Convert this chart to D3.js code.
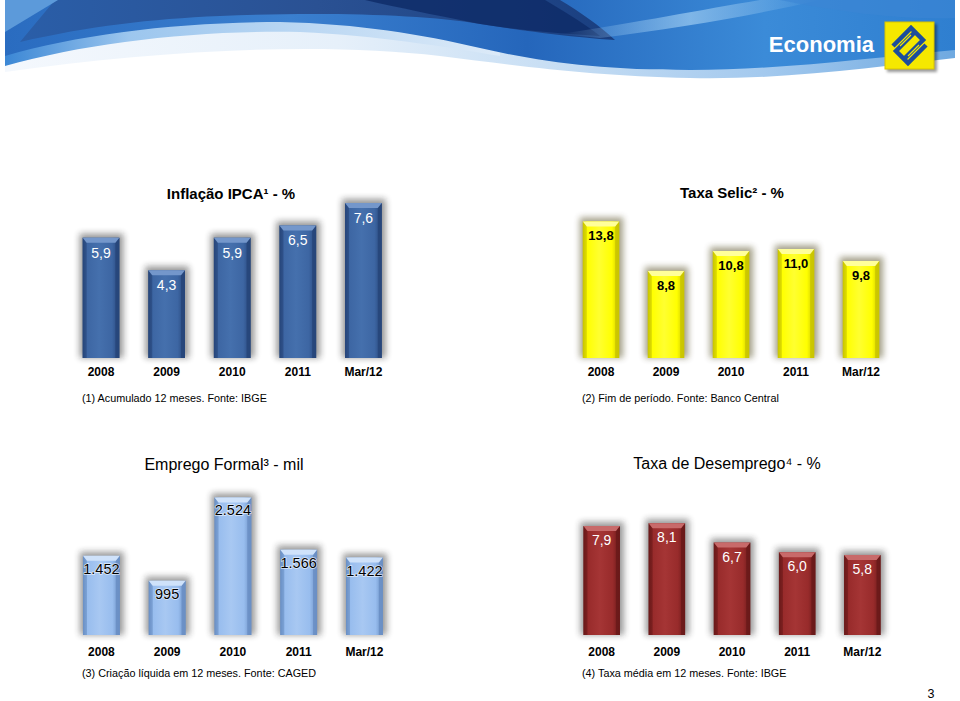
<!DOCTYPE html>
<html><head><meta charset="utf-8">
<script src="https://cdn.jsdelivr.net/npm/d3@7"></script>
<style>
body{margin:0;background:#fff;}
svg{display:block;font-family:"Liberation Sans",Arial,sans-serif;}
</style></head>
<body>
<svg id="c" width="960" height="701"></svg>
<script>
const categories = ["2008","2009","2010","2011","Mar/12"];
const ipca = [5.9, 4.3, 5.9, 6.5, 7.6];
const selic = [13.8, 8.8, 10.8, 11.0, 9.8];
const emprego = [1452, 995, 2524, 1566, 1422];
const desemprego = [7.9, 8.1, 6.7, 6.0, 5.8];
const titles = ["Inflação IPCA¹ - %", "Taxa Selic² - %", "Emprego Formal³ - mil", "Taxa de Desemprego⁴ - %"];
const notes = ["(1) Acumulado 12 meses. Fonte: IBGE", "(2) Fim de período. Fonte: Banco Central",
               "(3) Criação líquida em 12 meses. Fonte: CAGED", "(4) Taxa média em 12 meses. Fonte: IBGE"];

const svg = d3.select("#c");
const defs = svg.append("defs");

// ---------- header banner ----------
function lg(id, stops, x1=0,y1=0,x2=1,y2=0){
  const g = defs.append("linearGradient").attr("id",id).attr("x1",x1).attr("y1",y1).attr("x2",x2).attr("y2",y2);
  stops.forEach(s=>g.append("stop").attr("offset",s[0]).attr("stop-color",s[1]).attr("stop-opacity",s[2]===undefined?1:s[2]));
}
lg("paleG", [[0,"#f4f8fd"],[0.35,"#e6f0fa"],[0.6,"#c4dcf3"],[0.8,"#a3c9ee"],[1,"#6fa9e0"]]);
lg("mainG", [[0,"#2a6cc0"],[0.3,"#3a7fcf"],[0.55,"#2566bb"],[0.8,"#3b8bd8"],[1,"#2f7fd0"]]);
lg("darkG", [[0,"#2a5ea8"],[0.5,"#2a5193"],[1,"#1a3f80"]]);
lg("lightStreak", [[0,"#9fcdf2",0],[0.5,"#9fcdf2",0.7],[1,"#9fcdf2",0]]);
lg("midBand", [[0,"#3b87d5"],[0.25,"#9cc6ee"],[1,"#dceaf8"]]);

const hb = svg.append("g");
hb.append("path").attr("fill","url(#paleG)")
  .attr("d","M5,0 H955 V58 C880,66 790,80 690,78 C590,76 520,66 440,56 C320,42 160,50 5,72 Z");
hb.append("path").attr("fill","url(#midBand)")
  .attr("d","M5,0 H500 V56 C440,46 380,36 300,32 C200,30 90,42 5,66 Z");
hb.append("path").attr("fill","url(#mainG)")
  .attr("d","M5,0 H955 V50 C870,58 780,70 690,70 C600,70 540,62 480,48 C420,34 360,24 280,22 C180,22 80,34 5,56 Z");
hb.append("path").attr("fill","url(#darkG)")
  .attr("d","M55,0 H560 C580,12 600,26 615,40 C560,36 520,30 480,24 C420,14 320,12 220,16 C150,19 90,26 20,42 Z");
hb.append("path").attr("fill","#0e2b66").attr("opacity",0.8)
  .attr("d","M365,0 H545 C565,12 585,24 600,36 C540,32 500,28 470,22 C430,14 400,8 365,0 Z");
hb.append("path").attr("fill","url(#lightStreak)")
  .attr("d","M560,34 C640,22 700,10 760,0 H820 C760,14 680,28 600,38 Z");
hb.append("path").attr("fill","#5c9ada").attr("d","M5,0 H58 L5,32 Z");
hb.append("path").attr("fill","#3c86d4").attr("opacity",0.6)
  .attr("d","M780,0 H955 V18 C900,20 840,12 780,0 Z");

hb.append("text").attr("x",874).attr("y",52).attr("text-anchor","end")
  .attr("fill","#fff").attr("font-size",22).attr("font-weight","bold").text("Economia");

// BB logo
const sh = defs.append("filter").attr("id","lsh").attr("x","-30%").attr("y","-30%").attr("width","160%").attr("height","160%");
sh.append("feGaussianBlur").attr("stdDeviation",1.5);
hb.append("rect").attr("x",887).attr("y",24).attr("width",50).attr("height",48).attr("fill","#000").attr("opacity",0.4).attr("filter","url(#lsh)");
hb.append("rect").attr("x",885).attr("y",22).attr("width",49).attr("height",47).attr("fill","#f5e800").attr("stroke","#d9c400").attr("stroke-width",1);
const lgG = hb.append("g").attr("fill","none").attr("stroke","#1d4d9b").attr("stroke-width",4.5).attr("stroke-linejoin","miter");
lgG.append("path").attr("d","M893,46 L911,28 L923,40 L905,58");
lgG.append("path").attr("d","M926,45 L908,63 L896,51 L914,33");
lgG.append("path").attr("stroke","#f5e800").attr("stroke-width",1.2).attr("d","M900,46 L911,35 M919,45 L908,56");

// ---------- bar charts ----------
const shadowF = defs.append("filter").attr("id","bsh").attr("x","-50%").attr("y","-50%").attr("width","200%").attr("height","200%");
shadowF.append("feGaussianBlur").attr("stdDeviation",3.2);

const specs = [
  {vals: ipca, fmt: d=>d3.format(".1f")(d).replace(".",","), xr:[68.2,396.2], dom:[0,10], yr:[358,154],
   base:"#3d66a3", light:"#7497cb", mid:"#4570ad", edge:"#27467a", shadow:"#1a1a1a",
   lab:{fill:"#fff", size:14, weight:"normal", dy:20}, title:{x:231,y:199,w:"bold",s:15}, cat:376, note:{x:82,y:402}},
  {vals: selic, fmt: d=>d3.format(".1f")(d).replace(".",","), xr:[568.5,893.5], dom:[0,15], yr:[358,209.5],
   base:"#ffff00", light:"#ffff9a", mid:"#ffff30", edge:"#c9c400", shadow:"#3b3300",
   lab:{fill:"#000", size:13, weight:"bold", dy:19}, title:{x:732,y:198,w:"bold",s:15}, cat:376, note:{x:582,y:402}},
  {vals: emprego, fmt: d=>d3.format(",")(d).replace(",","."), xr:[68.5,397.3], dom:[0,3000], yr:[635,471.5],
   base:"#98bdee", light:"#cfe2fa", mid:"#a8c8f2", edge:"#6a8fc4", shadow:"#222",
   lab:{fill:"#000", size:14.5, weight:"normal", dy:18, halo:true}, title:{x:224,y:470,w:"normal",s:16}, cat:656, note:{x:82,y:677}},
  {vals: desemprego, fmt: d=>d3.format(".1f")(d).replace(".",","), xr:[569.1,894.9], dom:[0,10], yr:[635,497],
   base:"#982b2b", light:"#c86a6a", mid:"#a53535", edge:"#6a1a1a", shadow:"#222",
   lab:{fill:"#fff", size:14, weight:"normal", dy:19}, title:{x:727,y:469,w:"normal",s:16}, cat:656, note:{x:582,y:677}}
];

specs.forEach((s,i)=>{
  const g = svg.append("g");
  const x = d3.scaleBand().domain(categories).range(s.xr).paddingInner(0.44).paddingOuter(0.22);
  const y = d3.scaleLinear().domain(s.dom).range(s.yr);
  const gid = "bg"+i;
  lg(gid, [[0,s.edge],[0.12,s.base],[0.45,s.mid],[0.8,s.base],[1,s.edge]]);
  const data = categories.map((c,j)=>({c, v:s.vals[j]}));
  const w = x.bandwidth(), b = y(0), e = 4, cap = 5;

  g.selectAll("rect.sh").data(data).join("rect").attr("class","sh")
    .attr("x",d=>x(d.c)-3).attr("y",d=>y(d.v)-4).attr("width",w+7).attr("height",d=>b-y(d.v)+4)
    .attr("fill",s.shadow).attr("opacity",0.45).attr("filter","url(#bsh)");
  g.selectAll("rect.bar").data(data).join("rect").attr("class","bar")
    .attr("x",d=>x(d.c)).attr("y",d=>y(d.v)).attr("width",w).attr("height",d=>b-y(d.v))
    .attr("fill",`url(#${gid})`);
  g.selectAll("polygon.l").data(data).join("polygon").attr("class","l")
    .attr("points",d=>{const x0=x(d.c),y0=y(d.v);return `${x0},${y0} ${x0+e},${y0+cap} ${x0+e},${b} ${x0},${b}`;})
    .attr("fill",s.edge).attr("opacity",0.55);
  g.selectAll("polygon.r").data(data).join("polygon").attr("class","r")
    .attr("points",d=>{const x1=x(d.c)+w,y0=y(d.v);return `${x1},${y0} ${x1-e},${y0+cap} ${x1-e},${b} ${x1},${b}`;})
    .attr("fill",s.edge).attr("opacity",0.9);
  g.selectAll("polygon.t").data(data).join("polygon").attr("class","t")
    .attr("points",d=>{const x0=x(d.c),y0=y(d.v);return `${x0},${y0} ${x0+w},${y0} ${x0+w-e},${y0+cap} ${x0+e},${y0+cap}`;})
    .attr("fill",s.light);

  const lab = g.selectAll("text.v").data(data).join("text").attr("class","v")
    .attr("x",d=>x(d.c)+w/2).attr("y",d=>y(d.v)+s.lab.dy).attr("text-anchor","middle")
    .attr("fill",s.lab.fill).attr("font-size",s.lab.size).attr("font-weight",s.lab.weight)
    .text(d=>s.fmt(d.v));
  if(s.lab.halo) lab.attr("stroke","#fff").attr("stroke-width",1.5).attr("stroke-opacity",0.7).attr("paint-order","stroke");

  const ax = g.append("g").attr("transform",`translate(0,${s.cat-9})`)
    .call(d3.axisBottom(x).tickSize(0).tickPadding(0));
  ax.select(".domain").remove();
  ax.selectAll("text").attr("dy","0.71em").attr("y",0).attr("font-size",12).attr("font-weight","bold")
    .attr("fill","#000").attr("font-family","Liberation Sans, Arial, sans-serif");

  g.append("text").attr("x",s.title.x).attr("y",s.title.y).attr("text-anchor","middle")
    .attr("font-size",s.title.s).attr("font-weight",s.title.w).attr("fill","#000").text(titles[i]);
  g.append("text").attr("x",s.note.x).attr("y",s.note.y).attr("font-size",10.8).attr("fill","#000").text(notes[i]);
});

svg.append("text").attr("x",931).attr("y",698).attr("text-anchor","middle").attr("font-size",12.5).attr("fill","#000").text("3");
</script>
</body></html>
